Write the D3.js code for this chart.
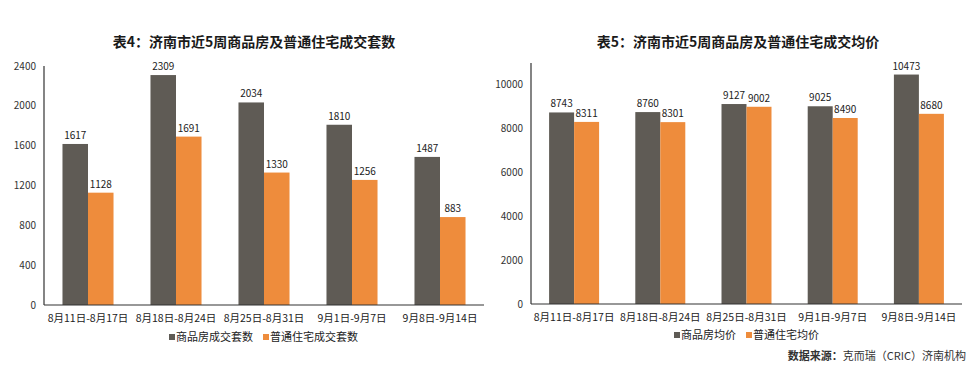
<!DOCTYPE html>
<html><head><meta charset="utf-8">
<script src="https://cdn.jsdelivr.net/npm/d3@7"></script>
<style>
body{margin:0;background:#fff;}
svg{display:block;font-family:"Noto Sans CJK SC","DejaVu Sans",sans-serif;}
</style></head>
<body>
<svg id="c" width="978" height="369"></svg>
<script>
const categories = ["8月11日-8月17日","8月18日-8月24日","8月25日-8月31日","9月1日-9月7日","9月8日-9月14日"];
// Chart 1: transaction counts
const countCommodity = [1617, 2309, 2034, 1810, 1487];
const countOrdinary  = [1128, 1691, 1330, 1256, 883];
const countTicks = [0, 400, 800, 1200, 1600, 2000, 2400];
// Chart 2: average prices
const priceCommodity = [8743, 8760, 9127, 9025, 10473];
const priceOrdinary  = [8311, 8301, 9002, 8490, 8680];
const priceTicks = [0, 2000, 4000, 6000, 8000, 10000];

const title1 = "表4：济南市近5周商品房及普通住宅成交套数";
const title2 = "表5：济南市近5周商品房及普通住宅成交均价";
const legend1 = ["商品房成交套数", "普通住宅成交套数"];
const legend2 = ["商品房均价", "普通住宅均价"];
const source = ["数据来源：", "克而瑞（CRIC）济南机构"];

const colors = ["#5f5b55", "#ee8c3c"];
const svg = d3.select("#c");

function drawChart(o) {
  const g = svg.append("g");
  const x = d3.scaleBand().domain(categories).range([o.x0, o.x1]).padding(0);
  const y = d3.scaleLinear().domain([0, o.max]).range([o.yBase, o.yTop]);
  const bw = x.bandwidth() * 0.29;

  // title
  g.append("text").attr("x", o.titleX).attr("y", 47).attr("text-anchor", "middle")
    .attr("font-size", 14).attr("font-weight", "bold").attr("fill", "#1a1a1a").text(o.title);

  // y tick labels
  g.selectAll(".yt").data(o.ticks).enter().append("text")
    .attr("x", o.x0 - 8).attr("y", d => y(d) + 3.5).attr("text-anchor", "end")
    .attr("font-size", 10).attr("fill", "#333").text(d => d);

  const series = [o.s1, o.s2];
  series.forEach((s, si) => {
    g.selectAll(".b" + si).data(s).enter().append("rect")
      .attr("x", (d, i) => x(categories[i]) + x.bandwidth() / 2 - bw + si * bw)
      .attr("y", d => y(d)).attr("width", bw).attr("height", d => y(0) - y(d))
      .attr("fill", colors[si]);
    g.selectAll(".l" + si).data(s).enter().append("text")
      .attr("x", (d, i) => x(categories[i]) + x.bandwidth() / 2 - bw / 2 + si * bw)
      .attr("y", d => y(d) - 5).attr("text-anchor", "middle")
      .attr("font-size", 10).attr("fill", "#222").text(d => d);
  });

  // axes lines
  g.append("line").attr("x1", o.x0).attr("x2", o.x0).attr("y1", o.axisTop).attr("y2", o.yBase)
    .attr("stroke", "#333").attr("stroke-width", 1.2);
  g.append("line").attr("x1", o.x0).attr("x2", o.x1).attr("y1", o.yBase).attr("y2", o.yBase)
    .attr("stroke", "#333").attr("stroke-width", 1.2);

  // x labels
  g.selectAll(".xl").data(categories).enter().append("text")
    .attr("x", d => x(d) + x.bandwidth() / 2).attr("y", o.yBase + 17).attr("text-anchor", "middle")
    .attr("font-size", 10.5).attr("fill", "#222").text(d => d);

  // legend
  const lg = g.append("g");
  let lx = o.legendX;
  o.legend.forEach((t, i) => {
    lg.append("rect").attr("x", lx).attr("y", o.legendY - 7).attr("width", 6).attr("height", 6).attr("fill", colors[i]);
    const tx = lg.append("text").attr("x", lx + 7).attr("y", o.legendY).attr("font-size", 11)
      .attr("fill", "#222").text(t);
    lx += 7 + tx.node().getComputedTextLength() + 10;
  });
}

drawChart({x0: 44, x1: 484, yBase: 305, yTop: 66, axisTop: 66, max: 2400, ticks: countTicks,
  s1: countCommodity, s2: countOrdinary, title: title1, titleX: 254, legend: legend1, legendX: 169, legendY: 341});
drawChart({x0: 531, x1: 962, yBase: 304, yTop: 63, axisTop: 63, max: 11000, ticks: priceTicks,
  s1: priceCommodity, s2: priceOrdinary, title: title2, titleX: 738, legend: legend2, legendX: 674, legendY: 339});

const st = svg.append("text").attr("x", 966).attr("y", 360).attr("text-anchor", "end").attr("font-size", 11).attr("fill", "#333");
st.append("tspan").attr("font-weight", "bold").text(source[0]);
st.append("tspan").text(source[1]);
</script>
</body></html>
